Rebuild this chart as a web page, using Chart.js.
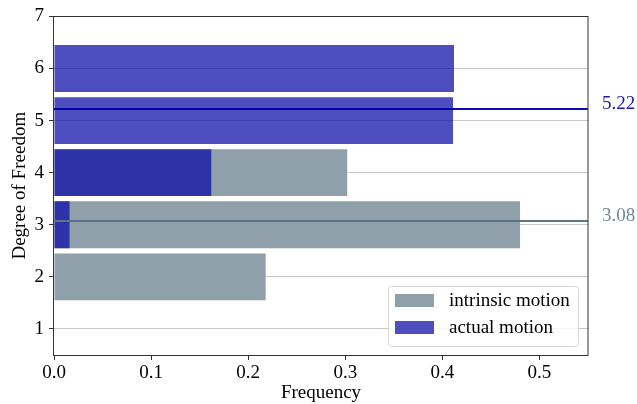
<!DOCTYPE html>
<html>
<head>
<meta charset="utf-8">
<script src="https://cdn.jsdelivr.net/npm/chart.js@4.4.0/dist/chart.umd.min.js"></script>
<style>
  html, body { margin: 0; padding: 0; background: #fff; }
  #wrap { width: 637px; height: 404px; }
</style>
</head>
<body>
<div id="wrap"><canvas id="mycanvas" width="637" height="404"></canvas></div>
<script>
// degree of freedom for each bar, and the frequencies
var dofIntrinsic = [2, 3, 4];
var freqIntrinsic = [0.218, 0.480, 0.302];
var dofActual = [3, 4, 5, 6];
var freqActual = [0.016, 0.162, 0.411, 0.412];

// mean lines drawn across the plot
var meanValues = [5.22, 3.08];
var meanLabels = ['5.22', '3.08'];

var yTicks = [1, 2, 3, 4, 5, 6, 7];
var xTicks = [0, 0.1, 0.2, 0.3, 0.4, 0.5];

var seriesNames = ['intrinsic motion', 'actual motion'];

var FONT = "'Liberation Serif', 'Times New Roman', serif";
var grayColor = '#8fa0ab';
var blueColor = 'rgba(3, 3, 165, 0.7)';
var meanColors = ['rgba(0, 0, 170, 0.95)', '#5b7587'];
var meanTextColors = ['#1a1ab0', '#6f879a'];

function toPoints(ys, xs) {
	var pts = [];
	for (var i in ys) {
		pts.push({ x: xs[i], y: ys[i] });
	}
	return pts;
}

var chartdata = {
	datasets: [
		{
			label: seriesNames[0],
			backgroundColor: grayColor,
			borderWidth: 0,
			order: 2,
			data: toPoints(dofIntrinsic, freqIntrinsic)
		},
		{
			label: seriesNames[1],
			backgroundColor: blueColor,
			borderWidth: 0,
			order: 1,
			data: toPoints(dofActual, freqActual)
		}
	]
};

// mean lines, labels on the right, frame and legend inside the plot
var extras = {
	id: 'extras',
	afterDraw: function(chart) {
		var ctx = chart.ctx;
		var area = chart.chartArea;
		var ys = chart.scales.y;

		ctx.save();
		for (var i in meanValues) {
			var py = Math.round(ys.getPixelForValue(meanValues[i]));
			ctx.strokeStyle = meanColors[i];
			ctx.lineWidth = 2;
			ctx.beginPath();
			ctx.moveTo(area.left, py);
			ctx.lineTo(area.right, py);
			ctx.stroke();
			ctx.fillStyle = meanTextColors[i];
			ctx.font = '19px ' + FONT;
			ctx.textAlign = 'left';
			ctx.textBaseline = 'middle';
			ctx.fillText(meanLabels[i], area.right + 14, py - 5);
		}

		// frame
		ctx.strokeStyle = '#333';
		ctx.lineWidth = 1;
		ctx.strokeRect(Math.round(area.left) - 0.5, Math.round(area.top) + 0.5,
			Math.round(area.right - area.left) + 0.5, Math.round(area.bottom - area.top));

		// legend box
		var lx = area.right - 200, ly = area.bottom - 69, lw = 190, lh = 60;
		ctx.fillStyle = 'rgba(255,255,255,0.8)';
		ctx.strokeStyle = '#d6d6d6';
		ctx.beginPath();
		ctx.roundRect(lx + 0.5, ly + 0.5, lw, lh, 3);
		ctx.fill();
		ctx.stroke();
		var colors = [grayColor, blueColor];
		for (var k = 0; k < seriesNames.length; k++) {
			var ry = ly + 8 + k * 27;
			ctx.fillStyle = colors[k];
			ctx.fillRect(lx + 7, ry, 39, 13);
			ctx.fillStyle = '#000';
			ctx.font = '19px ' + FONT;
			ctx.textAlign = 'left';
			ctx.textBaseline = 'middle';
			ctx.fillText(seriesNames[k], lx + 61, ry + 7);
		}
		ctx.restore();
	}
};

var ctx = document.getElementById('mycanvas');

var barGraph = new Chart(ctx, {
	type: 'bar',
	data: chartdata,
	plugins: [extras],
	options: {
		responsive: false,
		animation: false,
		indexAxis: 'y',
		layout: { padding: { left: 0, right: 49, top: 12, bottom: 0 } },
		datasets: {
			bar: { grouped: false, categoryPercentage: 1, barPercentage: 0.9 }
		},
		plugins: {
			legend: { display: false },
			tooltip: { enabled: false }
		},
		scales: {
			x: {
				type: 'linear',
				min: 0,
				max: 0.55,
				afterBuildTicks: function(scale) {
					scale.ticks = xTicks.map(function(v) { return { value: v }; });
				},
				afterFit: function(scale) { scale.height = 49; },
				ticks: {
					color: '#000',
					font: { family: FONT, size: 19 },
					padding: 2,
					maxRotation: 0,
					callback: function(v) { return v.toFixed(1); }
				},
				grid: { drawOnChartArea: false, tickLength: 5, tickColor: '#333' },
				border: { display: false },
				title: {
					display: true,
					text: 'Frequency',
					color: '#000',
					font: { family: FONT, size: 19 },
					padding: { top: 0, bottom: 0 }
				}
			},
			y: {
				type: 'linear',
				min: 0.5,
				max: 7,
				z: 1,
				offset: false,
				afterBuildTicks: function(scale) {
					scale.ticks = yTicks.map(function(v) { return { value: v }; });
				},
				afterFit: function(scale) { scale.width = 54; },
				ticks: {
					color: '#000',
					font: { family: FONT, size: 19 },
					padding: 5,
					callback: function(v) { return String(v); }
				},
				grid: { offset: false, color: 'rgba(170,170,170,0.65)', lineWidth: 1, tickLength: 5, tickColor: '#333' },
				border: { display: false },
				title: {
					display: true,
					text: 'Degree of Freedom',
					color: '#000',
					font: { family: FONT, size: 19 },
					padding: { top: 9, bottom: 0 }
				}
			}
		}
	}
});
</script>
</body>
</html>
